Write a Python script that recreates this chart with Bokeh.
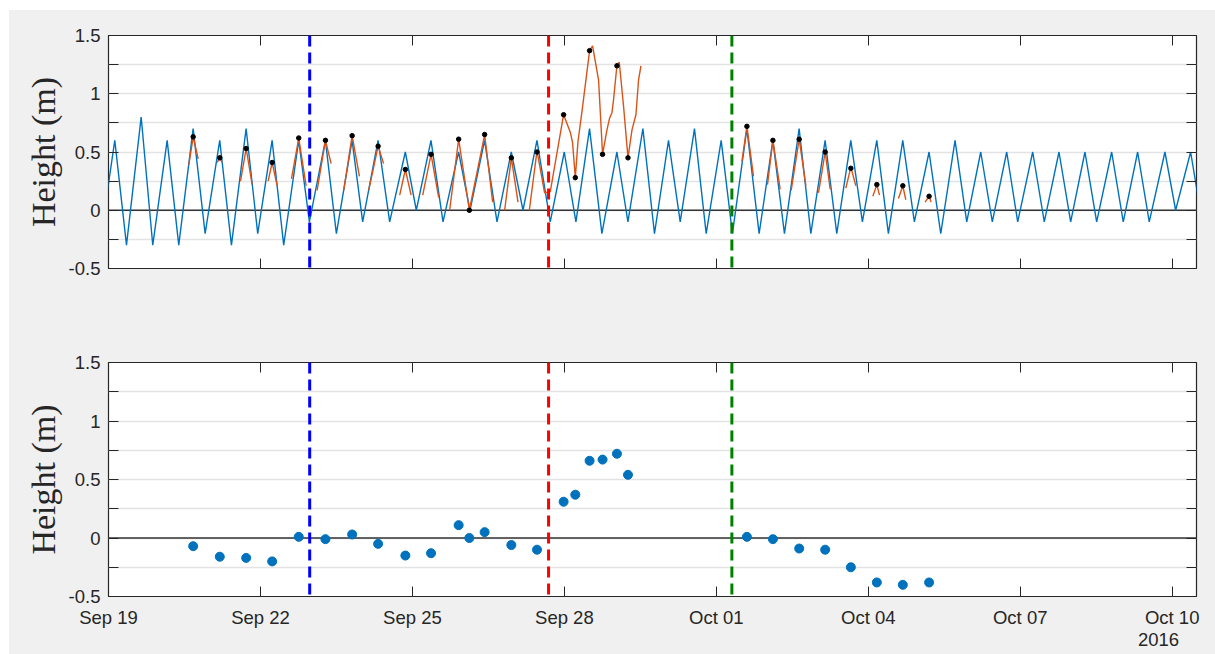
import pandas as pd
from bokeh.plotting import figure
from bokeh.models import (Range1d, FixedTicker, LinearAxis, DatetimeAxis,
                          DatetimeTickFormatter, CustomJSTickFormatter, Span, Spacer)
from bokeh.layouts import column, row
from bokeh.embed import file_html
from bokeh.resources import INLINE

START = pd.Timestamp("2016-09-19")

# ---------------- data (days after 2016-09-19 00:00) ----------------
tide_day = [-0.109, 0.124, 0.355, 0.645, 0.874, 1.158, 1.387, 1.671, 1.908, 2.196,
            2.427, 2.717, 2.946, 3.230, 3.459, 3.755, 3.966, 4.282, 4.499, 4.809,
            5.018, 5.322, 5.551, 5.860, 6.077, 6.367, 6.604, 6.912, 7.137, 7.425,
            7.670, 7.952, 8.183, 8.459, 8.721, 8.998, 9.228, 9.497, 9.741, 10.037,
            10.255, 10.550, 10.779, 11.056, 11.287, 11.569, 11.800, 12.096, 12.318, 12.603,
            12.845, 13.116, 13.345, 13.635, 13.866, 14.148, 14.378, 14.655, 14.884, 15.168,
            15.397, 15.681, 15.910, 16.200, 16.431, 16.713, 16.944, 17.220, 17.449, 17.733,
            17.950, 18.246, 18.475, 18.765, 18.996, 19.278, 19.509, 19.805, 20.034, 20.318,
            20.547, 20.857, 21.068, 21.364, 21.593]
tide_val = [-0.1, 0.6, -0.3, 0.8, -0.3, 0.6, -0.3, 0.7, -0.2, 0.6,
            -0.3, 0.7, -0.2, 0.6, -0.3, 0.6, -0.1, 0.6, -0.2, 0.6,
            -0.1, 0.6, -0.1, 0.5, 0.0, 0.6, -0.1, 0.5, 0.0, 0.6,
            -0.1, 0.5, 0.0, 0.6, -0.1, 0.5, -0.1, 0.7, -0.2, 0.5,
            -0.1, 0.7, -0.2, 0.6, -0.1, 0.7, -0.2, 0.6, -0.2, 0.7,
            -0.2, 0.6, -0.2, 0.7, -0.2, 0.6, -0.2, 0.6, -0.1, 0.6,
            -0.2, 0.6, -0.1, 0.5, -0.2, 0.6, -0.1, 0.5, -0.1, 0.5,
            -0.1, 0.5, -0.1, 0.5, -0.1, 0.5, -0.1, 0.5, -0.1, 0.5,
            -0.1, 0.5, 0.0, 0.5, -0.1]

obs_seg_day = [
    [1.585, 1.672, 1.771],
    [2.146, 2.197, 2.244],
    [2.606, 2.718, 2.836],
    [3.152, 3.231, 3.330],
    [3.612, 3.756, 3.902],
    [4.119, 4.283, 4.395],
    [4.644, 4.810, 4.954],
    [5.137, 5.323, 5.432],
    [5.749, 5.861, 5.974],
    [6.203, 6.368, 6.518],
    [6.735, 6.913, 7.124, 7.426, 7.584],
    [7.821, 7.953, 8.085],
    [8.308, 8.460, 8.610, 8.722, 8.985, 9.117, 9.162, 9.216, 9.269, 9.360,
     9.498, 9.557, 9.675, 9.754, 9.841, 9.893, 9.940, 9.971, 10.038, 10.084,
     10.169, 10.256, 10.335, 10.413, 10.465, 10.512],
    [12.505, 12.604, 12.734],
    [13.010, 13.117, 13.261],
    [13.478, 13.636, 13.768],
    [14.017, 14.149, 14.248],
    [14.557, 14.656, 14.754],
    [15.090, 15.169, 15.221],
    [15.595, 15.682, 15.741],
    [16.122, 16.201, 16.240],
]
obs_seg_val = [
    [0.39, 0.63, 0.44],
    [0.41, 0.45, 0.41],
    [0.25, 0.53, 0.22],
    [0.25, 0.41, 0.21],
    [0.27, 0.62, 0.21],
    [0.17, 0.60, 0.40],
    [0.17, 0.64, 0.29],
    [0.17, 0.55, 0.40],
    [0.13, 0.35, 0.13],
    [0.13, 0.48, 0.11],
    [0.00, 0.61, 0.00, 0.65, 0.07],
    [0.00, 0.45, 0.07],
    [0.00, 0.51, 0.15, 0.16, 0.82, 0.67, 0.58, 0.28, 0.59, 0.89,
     1.37, 1.41, 1.12, 0.48, 0.69, 0.79, 0.84, 0.95, 1.245, 1.27,
     0.89, 0.45, 0.69, 0.82, 1.12, 1.24],
    [0.42, 0.72, 0.29],
    [0.22, 0.60, 0.18],
    [0.17, 0.61, 0.21],
    [0.15, 0.50, 0.18],
    [0.19, 0.37, 0.21],
    [0.12, 0.22, 0.13],
    [0.10, 0.21, 0.09],
    [0.07, 0.12, 0.07],
]

peak_day = [1.672, 2.197, 2.718, 3.231, 3.756, 4.283, 4.810, 5.323, 5.861, 6.368,
            6.913, 7.124, 7.426, 7.953, 8.460, 8.985, 9.216, 9.498, 9.754, 10.038,
            10.256, 12.604, 13.117, 13.636, 14.149, 14.656, 15.169, 15.682, 16.201]
peak_obs = [0.63, 0.45, 0.53, 0.41, 0.62, 0.60, 0.64, 0.55, 0.35, 0.48,
            0.61, 0.00, 0.65, 0.45, 0.50, 0.82, 0.28, 1.37, 0.48, 1.24,
            0.45, 0.72, 0.60, 0.61, 0.50, 0.36, 0.22, 0.21, 0.12]
surge = [-0.07, -0.16, -0.17, -0.20, 0.01, -0.01, 0.03, -0.05, -0.15, -0.13,
         0.11, 0.00, 0.05, -0.06, -0.10, 0.31, 0.37, 0.66, 0.67, 0.72,
         0.54, 0.01, -0.01, -0.09, -0.10, -0.25, -0.38, -0.40, -0.38]

event_day = [3.972, 8.688, 12.307]
event_color = ["#0000ff", "#ff0000", "#008000"]

x_tick_dates = ["2016-09-19", "2016-09-22", "2016-09-25", "2016-09-28",
                "2016-10-01", "2016-10-04", "2016-10-07", "2016-10-10"]
y_major = [-0.5, 0, 0.5, 1, 1.5]
y_minor = [-0.25, 0.25, 0.75, 1.25]
x_span_days = [0.0, 21.48]
year_label = "2016"
year_label_day = 20.729

# ---------------- helpers ----------------
def to_dt(days):
    return [(START + pd.Timedelta(days=d)).to_pydatetime() for d in days]

def to_ms(d):
    return (START + pd.Timedelta(days=d)).timestamp() * 1000.0

x_ticks_ms = [pd.Timestamp(s).timestamp() * 1000.0 for s in x_tick_dates]

AX = "#262626"
GRID = "#e3e3e3"
BLUE = "#0072BD"
ORANGE = "#D95319"
BG = "#f0f0f0"
TICK_FONT = "Liberation Sans"
TICK_SIZE = "18.5px"


def style_panel(p, show_xlabels):
    p.outline_line_color = AX
    p.outline_line_width = 1.2
    p.background_fill_color = "white"
    p.border_fill_color = BG
    p.xgrid.visible = False
    p.ygrid.grid_line_color = GRID
    p.ygrid.grid_line_width = 1.3
    p.ygrid.minor_grid_line_color = GRID
    p.ygrid.minor_grid_line_width = 1.3

    yt = FixedTicker(ticks=y_major, minor_ticks=y_minor)
    xt = FixedTicker(ticks=x_ticks_ms, minor_ticks=[])

    ya = p.yaxis[0]
    ya.ticker = yt
    ya.formatter = CustomJSTickFormatter(code="return String(tick);")
    ya.axis_line_color = None
    ya.major_tick_in = 10
    ya.major_tick_out = 0
    ya.minor_tick_in = 10
    ya.minor_tick_out = 0
    ya.major_tick_line_color = AX
    ya.minor_tick_line_color = AX
    ya.major_label_text_font = TICK_FONT
    ya.major_label_text_font_size = TICK_SIZE
    ya.major_label_text_color = AX
    ya.major_label_standoff = 8
    ya.axis_label = "Height (m)"
    ya.axis_label_text_font = "Liberation Serif"
    ya.axis_label_text_font_size = "34px"
    ya.axis_label_text_font_style = "normal"
    ya.axis_label_text_color = AX
    ya.axis_label_standoff = 4

    xa = p.xaxis[0]
    xa.ticker = xt
    xa.axis_line_color = None
    xa.major_tick_in = 10
    xa.major_tick_out = 0
    xa.minor_tick_line_color = None
    xa.major_tick_line_color = AX
    if show_xlabels:
        fmt = "%b %d"
        xa.formatter = DatetimeTickFormatter(
            milliseconds=fmt, seconds=fmt, minsec=fmt, minutes=fmt, hourmin=fmt,
            hours=fmt, days=fmt, months=fmt, years=fmt)
        xa.major_label_text_font = TICK_FONT
        xa.major_label_text_font_size = TICK_SIZE
        xa.major_label_text_color = AX
        xa.major_label_standoff = 10
    else:
        xa.formatter = CustomJSTickFormatter(code="return ''")
        xa.major_label_standoff = 0

    ra = LinearAxis(ticker=yt, formatter=CustomJSTickFormatter(code="return ''"),
                    axis_line_color=None, major_tick_in=10, major_tick_out=0,
                    minor_tick_in=10, minor_tick_out=0,
                    major_tick_line_color=AX, minor_tick_line_color=AX,
                    major_label_standoff=0)
    p.add_layout(ra, "right")
    ta = DatetimeAxis(ticker=xt, formatter=CustomJSTickFormatter(code="return ''"),
                      axis_line_color=None, major_tick_in=10, major_tick_out=0,
                      minor_tick_line_color=None, major_tick_line_color=AX,
                      major_label_standoff=0)
    p.add_layout(ta, "above")

    p.add_layout(Span(location=0, dimension="width", line_color="#333333",
                      line_width=1.5, level="underlay"))


def event_lines(p):
    for d, c in zip(event_day, event_color):
        p.add_layout(Span(location=to_ms(d), dimension="height", line_color=c,
                          line_width=3, line_dash="11 6"))


xr1 = Range1d(*to_dt(x_span_days))
xr2 = Range1d(*to_dt(x_span_days))

# ---------------- top panel ----------------
p1 = figure(width=1206, height=320, x_axis_type="datetime", x_range=xr1,
            y_range=Range1d(-0.5, 1.5), output_backend="svg", toolbar_location=None,
            min_border_left=99, min_border_right=19, min_border_top=25, min_border_bottom=62)
style_panel(p1, False)
p1.line(to_dt(tide_day), tide_val, line_color=BLUE, line_width=1.4)
p1.multi_line([to_dt(s) for s in obs_seg_day], obs_seg_val, line_color=ORANGE, line_width=1.4)
p1.scatter(to_dt(peak_day), peak_obs, size=4.5, color="black")
event_lines(p1)

# ---------------- bottom panel ----------------
p2 = figure(width=1206, height=324, x_axis_type="datetime", x_range=xr2,
            y_range=Range1d(-0.5, 1.5), output_backend="svg", toolbar_location=None,
            min_border_left=99, min_border_right=19, min_border_top=32, min_border_bottom=58)
style_panel(p2, True)
p2.scatter(to_dt(peak_day), surge, size=9, fill_color=BLUE, line_color=BLUE)
event_lines(p2)

# year label as a secondary, tick-less bottom axis
year_axis = DatetimeAxis(ticker=FixedTicker(ticks=[to_ms(year_label_day)], minor_ticks=[]),
                         formatter=CustomJSTickFormatter(code="return '%s';" % year_label),
                         axis_line_color=None, major_tick_line_color=None,
                         minor_tick_line_color=None, major_tick_in=0, major_tick_out=0,
                         major_label_standoff=2, major_label_text_font=TICK_FONT,
                         major_label_text_font_size=TICK_SIZE, major_label_text_color=AX)
p2.add_layout(year_axis, "below")

inner = column(p1, p2, spacing=0, styles={"background-color": BG})
layout = column(Spacer(height=10, width=1215),
                row(Spacer(width=9, height=644), inner, spacing=0),
                spacing=0)

open("out.html", "w").write(file_html(layout, INLINE))
